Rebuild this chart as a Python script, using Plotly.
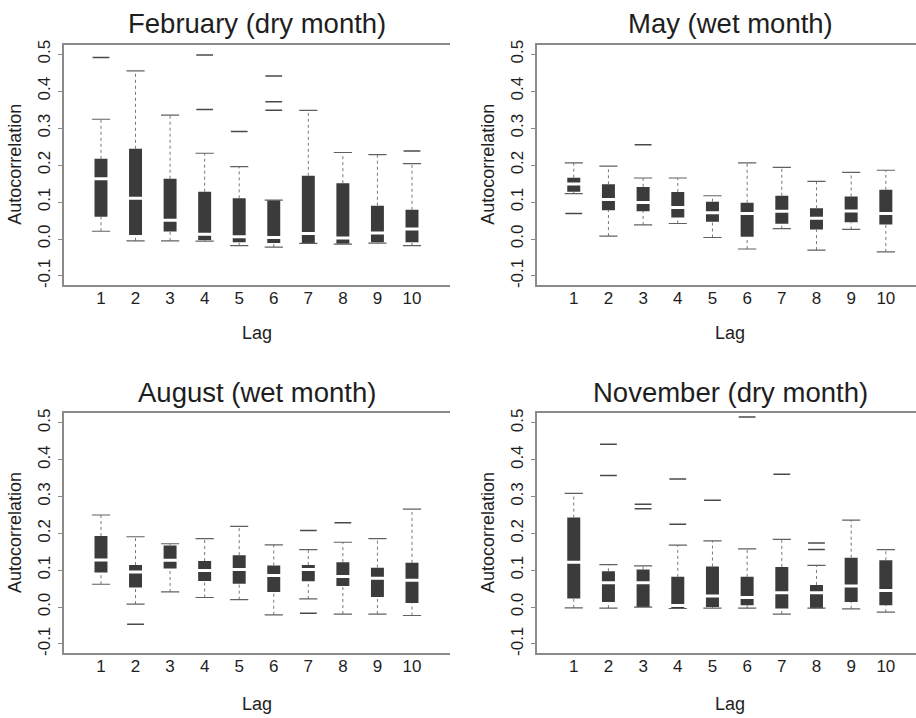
import plotly.graph_objects as go

# Lag-wise autocorrelation summaries (box-plot statistics) for four months
lags = list(range(1, 11))
tick_labels = [str(v) for v in lags]
titles = ["February (dry month)", "May (wet month)", "August (wet month)", "November (dry month)"]

feb_lower = [0.021, -0.005, -0.005, -0.006, -0.018, -0.022, -0.012, -0.014, -0.011, -0.018]
feb_q1 = [0.060, 0.011, 0.020, -0.003, -0.009, -0.011, -0.011, -0.013, -0.009, -0.009]
feb_median = [0.163, 0.110, 0.051, 0.013, 0.006, 0.004, 0.015, 0.003, 0.016, 0.027]
feb_q3 = [0.217, 0.244, 0.163, 0.128, 0.110, 0.105, 0.171, 0.151, 0.090, 0.079]
feb_upper = [0.324, 0.455, 0.335, 0.232, 0.196, 0.105, 0.348, 0.234, 0.228, 0.204]
feb_outliers = [[0.491], [], [], [0.498, 0.350], [0.291], [0.441, 0.371, 0.348], [], [], [], [0.238]]

may_lower = [0.123, 0.008, 0.038, 0.042, 0.004, -0.027, 0.028, -0.030, 0.026, -0.035]
may_q1 = [0.128, 0.078, 0.075, 0.058, 0.047, 0.006, 0.041, 0.026, 0.045, 0.039]
may_median = [0.149, 0.107, 0.099, 0.085, 0.071, 0.069, 0.075, 0.056, 0.076, 0.069]
may_q3 = [0.166, 0.148, 0.141, 0.127, 0.101, 0.098, 0.117, 0.083, 0.115, 0.133]
may_upper = [0.206, 0.197, 0.165, 0.165, 0.117, 0.206, 0.194, 0.156, 0.180, 0.186]
may_outliers = [[0.069], [], [0.255], [], [], [], [], [], [], []]

aug_lower = [0.062, 0.008, 0.041, 0.026, 0.020, -0.021, 0.022, -0.019, -0.019, -0.023]
aug_q1 = [0.094, 0.053, 0.105, 0.071, 0.063, 0.041, 0.070, 0.057, 0.027, 0.011]
aug_median = [0.128, 0.095, 0.127, 0.099, 0.102, 0.086, 0.102, 0.083, 0.078, 0.073]
aug_q3 = [0.193, 0.114, 0.167, 0.125, 0.141, 0.113, 0.114, 0.122, 0.107, 0.120]
aug_upper = [0.250, 0.191, 0.172, 0.186, 0.219, 0.169, 0.156, 0.176, 0.186, 0.266]
aug_outliers = [[], [-0.047], [], [], [], [], [0.208, -0.017], [0.229], [], []]

nov_lower = [-0.002, -0.003, 0.000, -0.004, -0.003, -0.003, -0.019, -0.003, -0.005, -0.014]
nov_q1 = [0.023, 0.014, 0.000, -0.004, 0.000, 0.005, -0.004, -0.003, 0.014, 0.005]
nov_median = [0.122, 0.066, 0.066, 0.004, 0.030, 0.026, 0.039, 0.039, 0.057, 0.045]
nov_q3 = [0.243, 0.097, 0.102, 0.082, 0.110, 0.082, 0.109, 0.060, 0.134, 0.127]
nov_upper = [0.309, 0.115, 0.112, 0.168, 0.180, 0.158, 0.184, 0.113, 0.236, 0.156]
nov_outliers = [[], [0.442, 0.357], [0.279, 0.267], [0.348, 0.225], [0.290], [0.516], [0.361],
                [0.174, 0.156], [], []]

panels = [
    (feb_lower, feb_q1, feb_median, feb_q3, feb_upper, feb_outliers),
    (may_lower, may_q1, may_median, may_q3, may_upper, may_outliers),
    (aug_lower, aug_q1, aug_median, aug_q3, aug_upper, aug_outliers),
    (nov_lower, nov_q1, nov_median, nov_q3, nov_upper, nov_outliers),
]

FONT = "Liberation Sans, Arial, Helvetica, sans-serif"
TEXT = "#1e1e1e"
BOX = "#3b3b3b"
WHISK = "#777777"
FRAME = "#8a8a8a"
BOX_W = 0.375

W, H = 916, 718
# plot-area pixel extents: (left, right, top, bottom)
areas = [(64, 450, 40, 283), (537, 916, 40, 283), (64, 450, 413, 655), (537, 916, 413, 655)]
xranges = [[-0.07, 11.10], [-0.06, 10.87], [-0.07, 11.10], [-0.06, 10.87]]
yrange = [-0.124, 0.526]
lag_offsets = [49, 49, 52, 52]

fig = go.Figure()
layout = {}
annotations = []

for i, (lo, q1, med, q3, up, outs) in enumerate(panels):
    n = "" if i == 0 else str(i + 1)
    xa, ya = "x" + n, "y" + n

    # dotted whiskers from the box edges to the whisker ends
    wx, wy = [], []
    for lag, a, b, c, d in zip(lags, lo, q1, q3, up):
        wx += [lag, lag, None, lag, lag, None]
        wy += [a, b, None, c, d, None]
    fig.add_trace(go.Scatter(x=wx, y=wy, mode="lines", xaxis=xa, yaxis=ya,
                             line=dict(color=WHISK, width=1, dash="dot"),
                             hoverinfo="skip", showlegend=False))
    # whisker caps
    fig.add_trace(go.Scatter(x=lags + lags, y=lo + up, mode="markers", xaxis=xa, yaxis=ya,
                             marker=dict(symbol="line-ew", size=13,
                                         line=dict(color="#606060", width=1.2)),
                             hoverinfo="skip", showlegend=False))
    # interquartile boxes
    fig.add_trace(go.Bar(x=lags, y=[c - b for b, c in zip(q1, q3)], base=q1,
                         width=BOX_W, xaxis=xa, yaxis=ya,
                         marker=dict(color=BOX, line=dict(width=0)),
                         hoverinfo="skip", showlegend=False))
    # medians
    fig.add_trace(go.Scatter(x=lags, y=med, mode="markers", xaxis=xa, yaxis=ya,
                             marker=dict(symbol="line-ew", size=11,
                                         line=dict(color="white", width=3)),
                             hoverinfo="skip", showlegend=False))
    # outliers drawn as short dashes
    ox, oy = [], []
    for lag, vals in zip(lags, outs):
        for v in vals:
            ox.append(lag)
            oy.append(v)
    fig.add_trace(go.Scatter(x=ox, y=oy, mode="markers", xaxis=xa, yaxis=ya,
                             marker=dict(symbol="line-ew", size=12,
                                         line=dict(color="#4a4a4a", width=1.5)),
                             hoverinfo="skip", showlegend=False))

    l, r, t, b = areas[i]
    layout["xaxis" + n] = dict(
        domain=[l / W, r / W], range=xranges[i], anchor=ya,
        tickmode="array", tickvals=lags, ticktext=tick_labels,
        showgrid=False, zeroline=False, ticks="", ticklabelstandoff=-3,
        showline=True, mirror=True, linecolor=FRAME, linewidth=1.5,
        tickfont=dict(family=FONT, size=17, color=TEXT), fixedrange=True,
    )
    layout["yaxis" + n] = dict(
        domain=[1 - b / H, 1 - t / H], range=yrange, anchor=xa,
        tickmode="array", tickvals=[-0.1, 0.0, 0.1, 0.2, 0.3, 0.4, 0.5],
        ticktext=["-0.1", "0.0", "0.1", "0.2", "0.3", "0.4", "0.5"],
        showgrid=False, zeroline=False, ticks="outside", ticklen=4,
        tickcolor=FRAME, tickwidth=1, tickangle=-90, ticklabelstandoff=1,
        showline=True, mirror=False, linecolor=FRAME, linewidth=1.5,
        tickfont=dict(family=FONT, size=17, color=TEXT), fixedrange=True,
    )

    cx = (l + (r if i % 2 == 0 else r + 7)) / 2 / W
    annotations.append(dict(text=titles[i], x=cx, y=1 - (t - 21) / H, xref="paper", yref="paper",
                            showarrow=False, xanchor="center", yanchor="middle",
                            font=dict(family=FONT, size=27.5, color=TEXT)))
    annotations.append(dict(text="Lag", x=cx, y=1 - (b + lag_offsets[i]) / H, xref="paper",
                            yref="paper", showarrow=False, xanchor="center", yanchor="middle",
                            font=dict(family=FONT, size=18, color=TEXT)))
    annotations.append(dict(text="Autocorrelation", x=(l - 49) / W, y=1 - ((t + b) / 2) / H,
                            xref="paper", yref="paper", textangle=-90,
                            showarrow=False, xanchor="center", yanchor="middle",
                            font=dict(family=FONT, size=18, color=TEXT)))

fig.update_layout(
    width=W, height=H, margin=dict(l=0, r=0, t=0, b=0),
    paper_bgcolor="white", plot_bgcolor="white",
    barmode="overlay", showlegend=False,
    annotations=annotations, **layout,
)

fig.write_html("out.html", config={"displayModeBar": False})
